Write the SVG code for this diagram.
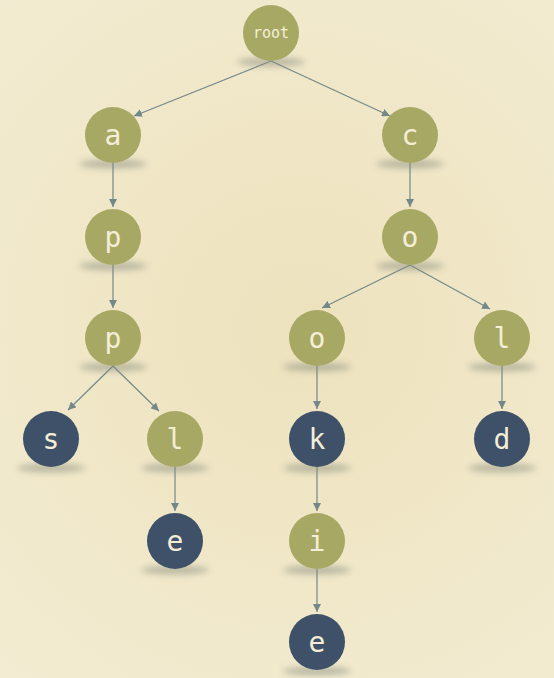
<svg xmlns="http://www.w3.org/2000/svg" width="554" height="678" viewBox="0 0 554 678">
  <defs>
    <radialGradient id="bg" cx="300" cy="330" r="460" gradientUnits="userSpaceOnUse">
      <stop offset="0" stop-color="#ede2bd"/>
      <stop offset="1" stop-color="#f3ecd2"/>
    </radialGradient>
    <filter id="blur" x="-50%" y="-200%" width="200%" height="500%">
      <feGaussianBlur stdDeviation="3"/>
    </filter>
    <marker id="arr" viewBox="0 0 10 10" refX="10" refY="5" markerWidth="8" markerHeight="8" markerUnits="userSpaceOnUse" orient="auto">
      <path d="M0,0 L10,5 L0,10 z" fill="#74888a"/>
    </marker>
    <style>
      .shadow { fill: #858a7c; opacity: 0.5; filter: url(#blur); }
      .olive { fill: #a8a865; }
      .dark { fill: #3e5169; }
      .lbl { font-family: "DejaVu Sans Mono", "Liberation Mono", monospace; font-size: 28px; fill: #f4eed6; text-anchor: middle; }
      .small { font-size: 15px; }
      .edge { stroke: #74888a; stroke-width: 1.2; fill: none; marker-end: url(#arr); }
    </style>
  </defs>
  <rect width="554" height="678" fill="url(#bg)"/>

  <g id="edges">
    <line class="edge" x1="271" y1="61" x2="134" y2="116"/>
    <line class="edge" x1="271" y1="61" x2="390" y2="116"/>
    <line class="edge" x1="113" y1="163" x2="113" y2="207"/>
    <line class="edge" x1="410" y1="163" x2="410" y2="207"/>
    <line class="edge" x1="113" y1="265" x2="113" y2="308"/>
    <line class="edge" x1="410" y1="265" x2="322" y2="308"/>
    <line class="edge" x1="410" y1="265" x2="490" y2="309"/>
    <line class="edge" x1="113" y1="366" x2="68" y2="410"/>
    <line class="edge" x1="113" y1="366" x2="159" y2="411"/>
    <line class="edge" x1="317" y1="366" x2="317" y2="409"/>
    <line class="edge" x1="502" y1="366" x2="502" y2="409"/>
    <line class="edge" x1="175" y1="467" x2="175" y2="511"/>
    <line class="edge" x1="317" y1="467" x2="317" y2="511"/>
    <line class="edge" x1="317" y1="569" x2="317" y2="612"/>
  </g>

  <g id="n-root"><ellipse class="shadow" cx="271" cy="62" rx="34" ry="4.5"/><circle class="olive" cx="271" cy="33" r="28"/><text class="lbl small" x="271" y="38">root</text></g>
  <g id="n-a"><ellipse class="shadow" cx="113" cy="164" rx="34" ry="4.5"/><circle class="olive" cx="113" cy="135" r="28"/><text class="lbl" x="113" y="145">a</text></g>
  <g id="n-c"><ellipse class="shadow" cx="410" cy="164" rx="34" ry="4.5"/><circle class="olive" cx="410" cy="135" r="28"/><text class="lbl" x="410" y="145">c</text></g>
  <g id="n-p1"><ellipse class="shadow" cx="113" cy="266" rx="34" ry="4.5"/><circle class="olive" cx="113" cy="237" r="28"/><text class="lbl" x="113" y="247">p</text></g>
  <g id="n-o1"><ellipse class="shadow" cx="410" cy="266" rx="34" ry="4.5"/><circle class="olive" cx="410" cy="237" r="28"/><text class="lbl" x="410" y="247">o</text></g>
  <g id="n-p2"><ellipse class="shadow" cx="113" cy="367" rx="34" ry="4.5"/><circle class="olive" cx="113" cy="338" r="28"/><text class="lbl" x="113" y="348">p</text></g>
  <g id="n-o2"><ellipse class="shadow" cx="317" cy="367" rx="34" ry="4.5"/><circle class="olive" cx="317" cy="338" r="28"/><text class="lbl" x="317" y="348">o</text></g>
  <g id="n-l1"><ellipse class="shadow" cx="502" cy="367" rx="34" ry="4.5"/><circle class="olive" cx="502" cy="338" r="28"/><text class="lbl" x="502" y="348">l</text></g>
  <g id="n-s"><ellipse class="shadow" cx="51" cy="468" rx="34" ry="4.5"/><circle class="dark" cx="51" cy="439" r="28"/><text class="lbl" x="51" y="449">s</text></g>
  <g id="n-l2"><ellipse class="shadow" cx="175" cy="468" rx="34" ry="4.5"/><circle class="olive" cx="175" cy="439" r="28"/><text class="lbl" x="175" y="449">l</text></g>
  <g id="n-k"><ellipse class="shadow" cx="317" cy="468" rx="34" ry="4.5"/><circle class="dark" cx="317" cy="439" r="28"/><text class="lbl" x="317" y="449">k</text></g>
  <g id="n-d"><ellipse class="shadow" cx="502" cy="468" rx="34" ry="4.5"/><circle class="dark" cx="502" cy="439" r="28"/><text class="lbl" x="502" y="449">d</text></g>
  <g id="n-e1"><ellipse class="shadow" cx="175" cy="570" rx="34" ry="4.5"/><circle class="dark" cx="175" cy="541" r="28"/><text class="lbl" x="175" y="551">e</text></g>
  <g id="n-i"><ellipse class="shadow" cx="317" cy="570" rx="34" ry="4.5"/><circle class="olive" cx="317" cy="541" r="28"/><text class="lbl" x="317" y="551">i</text></g>
  <g id="n-e2"><ellipse class="shadow" cx="317" cy="671" rx="34" ry="4.5"/><circle class="dark" cx="317" cy="642" r="28"/><text class="lbl" x="317" y="652">e</text></g>
</svg>
